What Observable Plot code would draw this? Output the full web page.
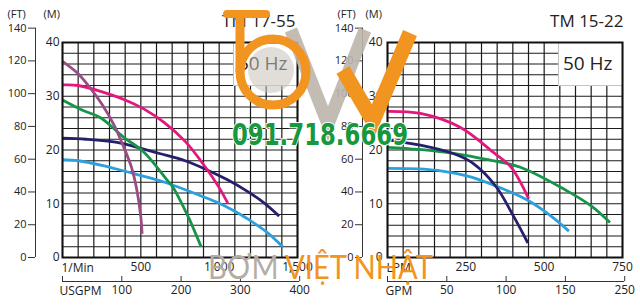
<!DOCTYPE html>
<html>
<head>
<meta charset="utf-8">
<script src="https://cdn.jsdelivr.net/npm/d3@7"></script>
<script src="https://cdn.jsdelivr.net/npm/@observablehq/plot@0.6"></script>
<style>
  html, body { margin: 0; padding: 0; background: #fff; }
  #wrap { position: relative; width: 640px; height: 306px; overflow: hidden; }
  #left, #right { position: absolute; top: 0; width: 320px; height: 306px; }
  #left { left: 0; }
  #right { left: 320px; }
  #wm { position: absolute; left: 0; top: 0; pointer-events: none; }
</style>
</head>
<body>
<div id="wrap">
  <div id="left"></div>
  <div id="right"></div>
  <svg id="wm" width="640" height="306" viewBox="0 0 640 306">
    <!-- watermark logo -->
    <path d="M291,30 L328,124 L365,30" fill="none" stroke="#bdb5ab" stroke-width="13" stroke-opacity="0.9"/>
    <path d="M343,70 L373,121 L410,33" fill="none" stroke="#f29420" stroke-width="15"/>
    <circle cx="271" cy="70" r="23" fill="#c9c3bb" fill-opacity="0.55"/>
    <path d="M227,14 H266" stroke="#f29420" stroke-width="8" stroke-linecap="round"/>
    <path d="M240,14 V72" stroke="#f29420" stroke-width="9"/>
    <circle cx="273" cy="72" r="33" fill="none" stroke="#f29420" stroke-width="9"/>
    <text id="phone" x="232" y="145" font-family="'Liberation Sans Narrow','DejaVu Sans Condensed','Roboto',sans-serif" font-weight="bold" font-size="31" fill="#17983c" stroke="#ffffff" stroke-width="2" paint-order="stroke" textLength="176" lengthAdjust="spacingAndGlyphs">091.718.6669</text>
    <text id="brand" x="208" y="279" font-family="'Lato','Open Sans',sans-serif" font-size="33" textLength="225" lengthAdjust="spacingAndGlyphs"><tspan fill="#b5ada3">BƠM </tspan><tspan fill="#f29420">VIỆT NHẬT</tspan></text>
  </svg>
</div>
<script>
// ---------- labels / ticks ----------
const leftTitle = "TM 17-55";
const rightTitle = "TM 15-22";
const hzLabel = "50 Hz";
const ftUnit = "(FT)";
const mUnit = "(M)";
const ftTicks = [0, 20, 40, 60, 80, 100, 120, 140];
const mTicks = [0, 10, 20, 30, 40];
const leftFlowUnit = "1/Min";
const leftFlowTicks = [500, 1000, 1500];
const leftGpmUnit = "USGPM";
const leftGpmTicks = [0, 100, 200, 300, 400];
const leftGpmLabels = ["", "100", "200", "300", "400"];
const rightFlowUnit = "LPM";
const rightFlowTicks = [250, 500, 750];
const rightGpmUnit = "GPM";
const rightGpmTicks = [0, 50, 100, 150, 200];
const rightGpmLabels = ["", "50", "100", "150", "250"];

// ---------- left panel curves (flow l/min, head m) ----------
const leftPurpleQ = [0, 100, 170, 250, 330, 390, 440, 475, 500, 508];
const leftPurpleH = [36.5, 34.2, 31.8, 28.6, 24.6, 20.6, 16.8, 12.5, 7.5, 4.4];
const leftPinkQ = [0, 100, 243, 400, 521, 650, 783, 900, 1000, 1055];
const leftPinkH = [32.1, 32.0, 30.9, 29.3, 27.6, 25.1, 21.6, 17.3, 13.0, 10.1];
const leftGreenQ = [0, 128, 243, 389, 520, 668, 704, 774, 809, 885];
const leftGreenH = [29.3, 27.4, 26.0, 22.4, 19.6, 14.4, 13.1, 9.3, 7.2, 2.0];
const leftNavyQ = [0, 150, 349, 500, 626, 783, 930, 1050, 1175, 1280, 1383];
const leftNavyH = [22.2, 22.0, 21.4, 20.3, 19.3, 18.0, 16.2, 14.5, 12.4, 10.3, 7.7];
const leftBlueQ = [0, 100, 259, 455, 652, 881, 1000, 1094, 1175, 1300, 1405];
const leftBlueH = [18.2, 18.0, 17.1, 15.6, 14.0, 11.5, 10.1, 8.7, 7.3, 4.8, 2.0];

// ---------- right panel curves (flow LPM, head m) ----------
const rightPinkQ = [0, 105, 233, 339, 393, 450];
const rightPinkH = [27.2, 26.8, 24.2, 19.5, 16.9, 11.0];
const rightNavyQ = [0, 105, 212, 271, 345, 403, 448];
const rightNavyH = [21.9, 20.9, 19.3, 17.6, 13.3, 7.6, 2.7];
const rightGreenQ = [0, 100, 220, 320, 424, 573, 650, 710];
const rightGreenH = [20.5, 20.1, 19.3, 18.2, 16.8, 12.4, 9.6, 6.5];
const rightBlueQ = [0, 100, 159, 265, 350, 446, 520, 579];
const rightBlueH = [16.6, 16.5, 16.2, 15.0, 13.2, 10.7, 7.8, 4.9];

const colors = {
  purple: "#9a4c86",
  pink: "#e2187c",
  green: "#17944a",
  navy: "#25206b",
  blue: "#2ba0dc"
};

const FT_TO_M = 0.3048;
const GPM_TO_LPM = 3.785;

function toRows(q, h) { return q.map((v, i) => ({q: v, h: h[i]})); }

function panel(p) {
  const gpmMap = new Map(p.gpmTicks.map((g, i) => [g, p.gpmLabels[i]]));
  const gridStroke = {stroke: "#1b1b1b", strokeOpacity: 1, strokeWidth: 1.2};
  return Plot.plot({
    width: 320,
    height: 306,
    marginLeft: p.ml,
    marginRight: p.mr,
    marginTop: 42,
    marginBottom: 49,
    x: {domain: [0, p.qMax], axis: null, label: null},
    y: {domain: [0, 40], axis: null, label: null},
    style: {fontFamily: "'Open Sans', sans-serif", fontSize: "11px", color: "#222", background: "white", overflow: "visible"},
    marks: [
      Plot.gridX({ticks: d3.range(0, p.qMax + 1, p.qStep), ...gridStroke}),
      Plot.gridY({ticks: d3.range(0, 41, 2), ...gridStroke}),
      Plot.frame({fill: "white", stroke: "#c4c4c4", strokeWidth: 1, insetLeft: 171, insetBottom: 172}),
      ...p.series.map(s => Plot.line(toRows(s.q, s.h), {
        x: "q", y: "h", stroke: s.color, strokeWidth: 2.8, curve: "catmull-rom", strokeLinecap: "butt"
      })),
      Plot.frame({stroke: "#111", strokeWidth: 2}),
      Plot.text([hzLabel], {frameAnchor: "top-right", textAnchor: "end", lineAnchor: "middle", dx: -10, dy: 21, fontSize: 19, fill: "#222"}),
      Plot.text([p.title], {frameAnchor: "top-right", textAnchor: "end", lineAnchor: "middle", dx: p.titleDx, dy: -21, fontSize: 17, fill: "#222"}),
      // metre axis
      Plot.axisY({ticks: mTicks, anchor: "left", label: null, tickSize: 0, tickPadding: p.mPad, fontSize: 12}),
      // feet axis
      Plot.axisY({ticks: ftTicks.map(f => f * FT_TO_M), tickFormat: d => String(Math.round(d / FT_TO_M)),
        anchor: "left", label: null, tickSize: 7, tickPadding: 2, dx: p.ftDx, fontSize: 11, stroke: "#333"}),
      Plot.ruleX([0], {y1: 0, y2: ftTicks[ftTicks.length - 1] * FT_TO_M, dx: p.ftDx, stroke: "#333", strokeWidth: 1}),
      Plot.text([ftUnit], {frameAnchor: "top-left", textAnchor: "start", lineAnchor: "middle", dx: p.ftUnitDx, dy: -28, fontSize: 11, fill: "#222"}),
      Plot.text([mUnit], {frameAnchor: "top-left", textAnchor: "start", lineAnchor: "middle", dx: p.mUnitDx, dy: -28, fontSize: 11, fill: "#222"}),
      // flow axis (l/min)
      Plot.axisX({ticks: p.flowTicks, anchor: "bottom", label: null, tickSize: 0, tickPadding: 5, fontSize: 12}),
      Plot.text([p.flowUnit], {frameAnchor: "bottom-left", textAnchor: "start", lineAnchor: "middle", dx: -1, dy: 11, fontSize: 12, fill: "#222"}),
      // gallon axis
      Plot.axisX({ticks: p.gpmTicks.map(g => g * GPM_TO_LPM), tickFormat: d => gpmMap.get(Math.round(d / GPM_TO_LPM)),
        anchor: "bottom", label: null, tickSize: 5, tickPadding: 4, dy: 19, fontSize: 12, stroke: "#333"}),
      Plot.ruleY([0], {x1: 0, x2: p.gpmTicks[p.gpmTicks.length - 1] * GPM_TO_LPM, dy: 24, stroke: "#333", strokeWidth: 1}),
      Plot.text([p.gpmUnit], {frameAnchor: "bottom-left", textAnchor: "start", lineAnchor: "middle", dx: p.gpmUnitDx, dy: 34, fontSize: 12, fill: "#222"})
    ]
  });
}

const leftPlot = panel({
  title: leftTitle, ml: 62, mr: 23, qMax: 1500, qStep: 100, titleDx: -2,
  mPad: 3, ftDx: -27, ftUnitDx: -55, mUnitDx: -19,
  flowTicks: leftFlowTicks, flowUnit: leftFlowUnit,
  gpmTicks: leftGpmTicks, gpmLabels: leftGpmLabels, gpmUnit: leftGpmUnit, gpmUnitDx: -3,
  series: [
    {q: leftBlueQ, h: leftBlueH, color: colors.blue},
    {q: leftNavyQ, h: leftNavyH, color: colors.navy},
    {q: leftGreenQ, h: leftGreenH, color: colors.green},
    {q: leftPinkQ, h: leftPinkH, color: colors.pink},
    {q: leftPurpleQ, h: leftPurpleH, color: colors.purple}
  ]
});

const rightPlot = panel({
  title: rightTitle, ml: 67, mr: 18, qMax: 750, qStep: 50, titleDx: 1,
  mPad: 5, ftDx: -25, ftUnitDx: -50, mUnitDx: -22,
  flowTicks: rightFlowTicks, flowUnit: rightFlowUnit,
  gpmTicks: rightGpmTicks, gpmLabels: rightGpmLabels, gpmUnit: rightGpmUnit, gpmUnitDx: -2,
  series: [
    {q: rightBlueQ, h: rightBlueH, color: colors.blue},
    {q: rightGreenQ, h: rightGreenH, color: colors.green},
    {q: rightNavyQ, h: rightNavyH, color: colors.navy},
    {q: rightPinkQ, h: rightPinkH, color: colors.pink}
  ]
});

document.getElementById("left").append(leftPlot);
document.getElementById("right").append(rightPlot);
</script>
</body>
</html>
